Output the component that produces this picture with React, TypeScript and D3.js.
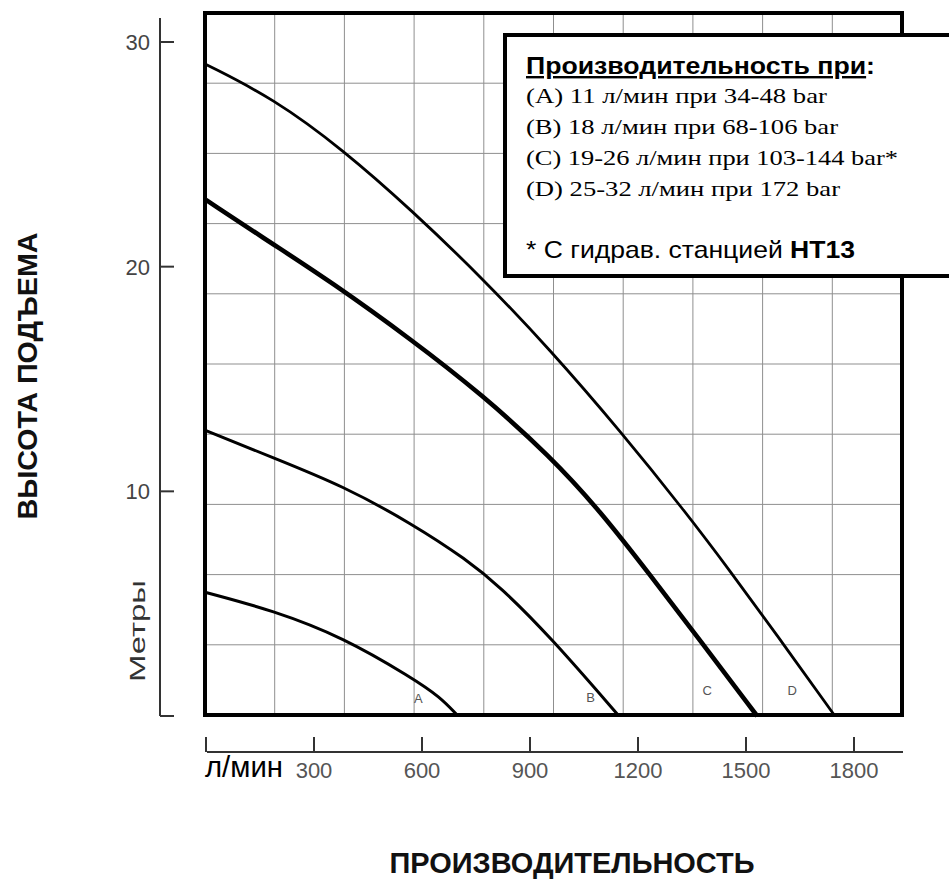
import React from "react";
import * as d3 from "d3";

// ---- data ----
const xTickValues = [0, 300, 600, 900, 1200, 1500, 1800];
const xTickLabels = ["л/мин", "300", "600", "900", "1200", "1500", "1800"];
const yTickValues = [0, 10, 20, 30];
const yTickLabels = ["", "10", "20", "30"];

const flowA = [0, 186, 381, 572, 650, 700];
const headA = [5.5, 4.7, 3.5, 1.7, 0.85, 0];
const flowB = [0, 186, 381, 572, 725, 817, 956, 1147];
const headB = [12.7, 11.5, 10.24, 8.56, 6.95, 5.75, 3.53, 0];
const flowC = [0, 186, 344, 572, 767, 956, 1094, 1233, 1372, 1531];
const headC = [22.97, 21.0, 19.36, 16.74, 14.3, 11.56, 9.14, 6.29, 3.37, 0];
const flowD = [0, 186, 381, 572, 767, 956, 1150, 1331, 1456, 1586, 1747];
const headD = [29.0, 27.5, 25.2, 22.5, 19.5, 16.3, 12.7, 9.1, 6.45, 3.6, 0];

const curveNames = ["A", "B", "C", "D"];
const curveLabelFlow = [590, 1068, 1392, 1628];
const curveLabelHead = [0.58, 0.62, 0.93, 0.93];

const legendTitle = "Производительность при";
const legendLines = [
  "(A) 11 л/мин при 34-48 bar",
  "(B) 18 л/мин при 68-106 bar",
  "(C) 19-26 л/мин при 103-144 bar*",
  "(D) 25-32 л/мин при 172 bar",
];
const footnoteText = "* С гидрав. станцией ";
const footnoteBold = "HT13";
const yTitle = "ВЫСОТА ПОДЪЕМА";
const yUnit = "Метры";
const xTitle = "ПРОИЗВОДИТЕЛЬНОСТЬ";

// ---- layout / style ----
const W = 949;
const H = 880;
const FR = { x0: 205, y0: 13, x1: 902, y1: 715 };
const SANS = "'Liberation Sans', Arial, Helvetica, sans-serif";
const SERIF = "'Liberation Serif', 'Times New Roman', serif";
const curveWidths = [3, 3, 4.6, 2.8];
const legendLineLengths = [301, 312, 372, 314];

export default function App() {
  const x = d3.scaleLinear().domain([0, 1800]).range([206, 854]);
  const y = d3.scaleLinear().domain([0, 30]).range([716, 42]);
  const gx = d3.scaleLinear().domain([0, 10]).range([FR.x0, FR.x1]);
  const gy = d3.scaleLinear().domain([0, 10]).range([FR.y1, FR.y0]);
  const line = d3
    .line<[number, number]>()
    .x((d) => x(d[0]))
    .y((d) => y(d[1]))
    .curve(d3.curveBasis);

  const series: [number, number][][] = [
    flowA.map((f, i) => [f, headA[i]] as [number, number]),
    flowB.map((f, i) => [f, headB[i]] as [number, number]),
    flowC.map((f, i) => [f, headC[i]] as [number, number]),
    flowD.map((f, i) => [f, headD[i]] as [number, number]),
  ];

  const gridIdx = d3.range(1, 10);
  const axisY = 752;
  const axisX = 160;

  return (
    <svg
      width={W}
      height={H}
      style={{ position: "absolute", left: 0, top: 0, background: "#fff" }}
    >
      <rect x={0} y={0} width={W} height={H} fill="#fff" />
      {/* grid */}
      <g stroke="#8f8f8f" strokeWidth={1}>
        {gridIdx.map((i) => (
          <line key={"v" + i} x1={gx(i)} x2={gx(i)} y1={FR.y0} y2={FR.y1} />
        ))}
        {gridIdx.map((i) => (
          <line key={"h" + i} x1={FR.x0} x2={FR.x1} y1={gy(i)} y2={gy(i)} />
        ))}
      </g>
      {/* curves */}
      {series.map((s, i) => (
        <path
          key={i}
          d={line(s) || ""}
          fill="none"
          stroke="#000"
          strokeWidth={curveWidths[i]}
          strokeLinejoin="round"
        />
      ))}
      {/* curve labels */}
      {curveNames.map((n, i) => (
        <text
          key={n}
          x={x(curveLabelFlow[i])}
          y={y(curveLabelHead[i])}
          textAnchor="middle"
          fontFamily={SANS}
          fontSize={13}
          fill="#555"
        >
          {n}
        </text>
      ))}
      {/* frame */}
      <rect
        x={FR.x0}
        y={FR.y0}
        width={FR.x1 - FR.x0}
        height={FR.y1 - FR.y0}
        fill="none"
        stroke="#000"
        strokeWidth={4}
      />
      {/* legend box */}
      <rect x={505} y={35} width={460} height={241} fill="#fff" stroke="#000" strokeWidth={4} />
      <text
        x={526}
        y={74}
        fontFamily={SANS}
        fontWeight="bold"
        fontSize={24}
        textLength={349}
        lengthAdjust="spacingAndGlyphs"
        fill="#000"
      >
        <tspan style={{ textDecoration: "underline" }}>{legendTitle}</tspan>:
      </text>
      {legendLines.map((t, i) => (
        <text
          key={i}
          x={526}
          y={103 + i * 31}
          fontFamily={SERIF}
          fontSize={21}
          textLength={legendLineLengths[i]}
          lengthAdjust="spacingAndGlyphs"
          fill="#000"
        >
          {t}
        </text>
      ))}
      <text
        x={526}
        y={258}
        fontFamily={SANS}
        fontSize={24}
        textLength={329}
        lengthAdjust="spacingAndGlyphs"
        fill="#000"
      >
        {footnoteText}
        <tspan fontWeight="bold">{footnoteBold}</tspan>
      </text>

      {/* y axis */}
      <line x1={axisX} x2={axisX} y1={18} y2={y(0)} stroke="#333" strokeWidth={2} />
      {yTickValues.map((v, i) => (
        <g key={v}>
          <line x1={axisX} x2={axisX + 14} y1={y(v)} y2={y(v)} stroke="#333" strokeWidth={2} />
          {yTickLabels[i] && (
            <text
              x={150}
              y={y(v)}
              dy="0.36em"
              textAnchor="end"
              fontFamily={SANS}
              fontSize={22}
              fill="#444"
            >
              {yTickLabels[i]}
            </text>
          )}
        </g>
      ))}
      <text
        transform="translate(145,631) rotate(-90)"
        textAnchor="middle"
        fontFamily={SANS}
        fontSize={22}
        textLength={102}
        lengthAdjust="spacingAndGlyphs"
        fill="#333"
      >
        {yUnit}
      </text>
      <text
        transform="translate(37,376) rotate(-90)"
        textAnchor="middle"
        fontFamily={SANS}
        fontWeight="bold"
        fontSize={28}
        textLength={287}
        lengthAdjust="spacingAndGlyphs"
        fill="#111"
      >
        {yTitle}
      </text>

      {/* x axis */}
      <line x1={207} x2={903} y1={axisY} y2={axisY} stroke="#333" strokeWidth={2} />
      {xTickValues.map((v, i) => (
        <g key={v}>
          <line x1={x(v)} x2={x(v)} y1={axisY - 15} y2={axisY} stroke="#333" strokeWidth={2} />
          {i === 0 ? (
            <text
              x={205}
              y={777}
              fontFamily={SANS}
              fontSize={29}
              textLength={78}
              lengthAdjust="spacingAndGlyphs"
              fill="#000"
            >
              {xTickLabels[i]}
            </text>
          ) : (
            <text
              x={x(v)}
              y={778}
              textAnchor="middle"
              fontFamily={SANS}
              fontSize={22}
              fill="#555"
            >
              {xTickLabels[i]}
            </text>
          )}
        </g>
      ))}
      <text
        x={572}
        y={873}
        textAnchor="middle"
        fontFamily={SANS}
        fontWeight="bold"
        fontSize={29}
        textLength={365}
        lengthAdjust="spacingAndGlyphs"
        fill="#111"
      >
        {xTitle}
      </text>
    </svg>
  );
}
